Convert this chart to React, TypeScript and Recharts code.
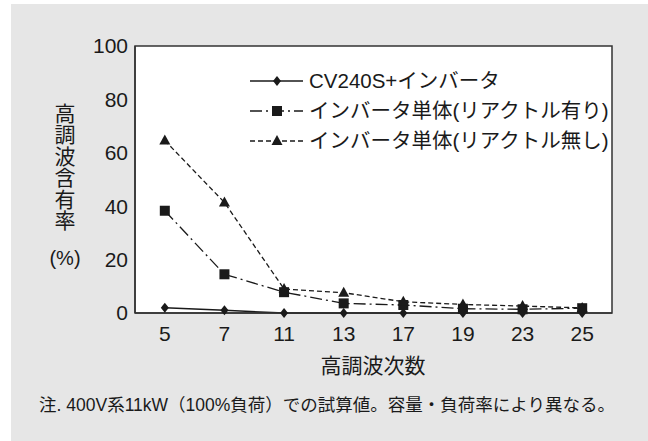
import React from "react";
import { ComposedChart, Line, XAxis, YAxis, ReferenceArea } from "recharts";

const harmonicOrders = ["5", "7", "11", "13", "17", "19", "23", "25"];
const cvInverter = [2.0, 1.0, 0, 0, 0, 0, 0, 0];
const withReactor = [38.3, 14.5, 7.8, 3.6, 3.0, 1.6, 1.4, 1.8];
const withoutReactor = [64.6, 41.4, 9.0, 7.6, 4.2, 3.2, 2.6, 1.9];
const yTicks = [0, 20, 40, 60, 80, 100];

const seriesNames = [
  "CV240S+インバータ",
  "インバータ単体(リアクトル有り)",
  "インバータ単体(リアクトル無し)",
];
const yLabelChars = ["高", "調", "波", "含", "有", "率"];

const data = harmonicOrders.map((h, i) => ({
  order: h,
  cv: cvInverter[i],
  reactor: withReactor[i],
  noReactor: withoutReactor[i],
}));

const FONT = "'Liberation Sans', 'Noto Sans CJK JP', sans-serif";
const INK = "#1a1a1a";

const Diamond = (props: any) => {
  const { cx, cy } = props;
  if (cx == null || cy == null) return null;
  return <polygon points={`${cx},${cy - 5} ${cx + 4},${cy} ${cx},${cy + 5} ${cx - 4},${cy}`} fill={INK} />;
};
const Square = (props: any) => {
  const { cx, cy } = props;
  if (cx == null || cy == null) return null;
  return <rect x={cx - 5} y={cy - 5} width={10} height={10} fill={INK} />;
};
const Triangle = (props: any) => {
  const { cx, cy } = props;
  if (cx == null || cy == null) return null;
  return <polygon points={`${cx},${cy - 6} ${cx + 5.5},${cy + 4} ${cx - 5.5},${cy + 4}`} fill={INK} />;
};

const legendRows = [
  { name: seriesNames[0], dash: undefined, Marker: Diamond },
  { name: seriesNames[1], dash: "12 4 2 4", Marker: Square },
  { name: seriesNames[2], dash: "5 3", Marker: Triangle },
];

export default function App() {
  return (
    <div style={{ position: "absolute", left: 0, top: 0, width: 648, height: 441, background: "#fff", fontFamily: FONT }}>
      <div style={{ position: "absolute", left: 11, top: 4, width: 637, height: 437, background: "#e6e6e6" }} />
      <div style={{ position: "absolute", left: 0, top: 0 }}>
        <ComposedChart
          width={648}
          height={441}
          data={data}
          margin={{ top: 46, right: 36, left: 75, bottom: 98 }}
        >
          <ReferenceArea y1={0} y2={100} fill="#ffffff" fillOpacity={1} stroke="#333" strokeWidth={1.5} />
          <XAxis
            dataKey="order"
            scale="band"
            axisLine={{ stroke: "#333", strokeWidth: 1.5 }}
            tickLine={false}
            tickSize={0}
            tickMargin={13}
            height={30}
            interval={0}
            tick={{ fill: INK, fontSize: 21, fontFamily: FONT }}
          />
          <YAxis
            domain={[0, 100]}
            ticks={yTicks}
            width={60}
            axisLine={{ stroke: "#333", strokeWidth: 1.5 }}
            tickLine={false}
            tickSize={0}
            tickMargin={7}
            tick={{ fill: INK, fontSize: 21, fontFamily: FONT }}
          />
          <YAxis
            yAxisId="inner"
            domain={[0, 100]}
            ticks={yTicks}
            width={0}
            mirror
            axisLine={false}
            tick={false}
            tickSize={7}
            tickLine={{ stroke: "#333", strokeWidth: 1.2 }}
          />
          <Line dataKey="cv" stroke={INK} strokeWidth={1.5} dot={<Diamond />} isAnimationActive={false} />
          <Line dataKey="reactor" stroke={INK} strokeWidth={1.3} strokeDasharray="12 4 2 4" dot={<Square />} isAnimationActive={false} />
          <Line dataKey="noReactor" stroke={INK} strokeWidth={1.3} strokeDasharray="5 3" dot={<Triangle />} isAnimationActive={false} />
        </ComposedChart>
      </div>
      <svg width={648} height={441} style={{ position: "absolute", left: 0, top: 0, pointerEvents: "none" }}>
        {legendRows.map((row, i) => {
          const y = 81 + i * 30;
          return (
            <g key={row.name}>
              <line x1={250} x2={303} y1={y} y2={y} stroke={INK} strokeWidth={1.3} strokeDasharray={row.dash} />
              <row.Marker cx={277} cy={y} />
              <text x={309} y={y} dy="0.36em" fontSize={20.5} fill={INK} fontFamily={FONT}>{row.name}</text>
            </g>
          );
        })}
        {yLabelChars.map((c, i) => (
          <text key={c} x={65} y={113 + i * 21.5} dy="0.36em" textAnchor="middle" fontSize={21} fill={INK} fontFamily={FONT}>{c}</text>
        ))}
        <text x={65} y={258} dy="0.36em" textAnchor="middle" fontSize={20} fill={INK} fontFamily={FONT}>(%)</text>
        <text x={373} y={365} dy="0.36em" textAnchor="middle" fontSize={21} fill={INK} fontFamily={FONT}>高調波次数</text>
        <text x={327} y={405} dy="0.36em" textAnchor="middle" fontSize={17.5} fill={INK} fontFamily={FONT}>注. 400V系11kW（100%負荷）での試算値。容量・負荷率により異なる。</text>
      </svg>
    </div>
  );
}
